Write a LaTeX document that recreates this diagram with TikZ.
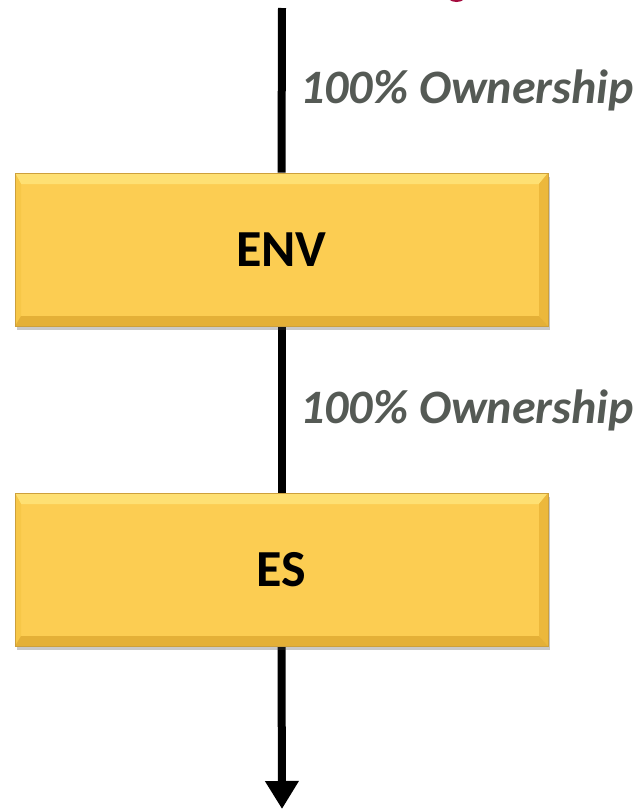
\documentclass[tikz,border=0pt]{standalone}
\usepackage{fontspec}
\setmainfont{Carlito}
\usetikzlibrary{arrows.meta,shadows,calc,backgrounds}
\definecolor{boxfill}{RGB}{252,205,82}
\definecolor{boxedge}{RGB}{205,160,60}
\definecolor{bevtop}{RGB}{254,224,115}
\definecolor{bevleft}{RGB}{247,199,72}
\definecolor{bevright}{RGB}{236,184,60}
\definecolor{bevbot}{RGB}{228,176,55}
\definecolor{labelgray}{RGB}{85,90,85}
\definecolor{crimson}{RGB}{165,12,62}
\tikzset{
  x=1pt, y=-1pt,
  conn/.style={line width=8pt, black},
  ownlabel/.style={anchor=base west, inner sep=0pt, text=labelgray,
    font=\bfseries\itshape\fontsize{48}{56}\selectfont},
  orgbox/.style={rectangle, minimum width=533pt, minimum height=153pt, inner sep=0pt,
    fill=boxfill, draw=boxedge, line width=0.8pt,
    font=\bfseries\fontsize{52}{60}\selectfont,
    drop shadow={shadow xshift=2pt, shadow yshift=-4pt, opacity=0.3, fill=black!70},
    path picture={
      \coordinate (nw) at (path picture bounding box.north west);
      \coordinate (ne) at (path picture bounding box.north east);
      \coordinate (sw) at (path picture bounding box.south west);
      \coordinate (se) at (path picture bounding box.south east);
      \fill[bevtop] (nw) -- (ne) -- ($(ne)+(-9,11)$) -- ($(nw)+(6,11)$) -- cycle;
      \fill[bevleft] (nw) -- ($(nw)+(6,11)$) -- ($(sw)+(6,-10)$) -- (sw) -- cycle;
      \fill[bevright] (ne) -- (se) -- ($(se)+(-9,-10)$) -- ($(ne)+(-9,11)$) -- cycle;
      \fill[bevbot] (sw) -- (se) -- ($(se)+(-9,-10)$) -- ($(sw)+(6,-10)$) -- cycle;
    }},
}
\begin{document}
\begin{tikzpicture}
\useasboundingbox (0,0) rectangle (637,809);
\fill[crimson] (456.5,-7) ellipse [x radius=11, y radius=9];
\coordinate (top) at (282,8);
\coordinate (bottom) at (282,809);
\node[orgbox] (env) at (281.5,249.5) {ENV};
\node[orgbox] (es) at (281.5,569.5) {ES};
\begin{scope}[on background layer]
\draw[conn] (top) -- (env.north);
\draw[conn] (env.south) -- (es.north);
\draw[conn, -{Triangle[width=32pt,length=28pt]}] (es.south) -- (bottom);
\end{scope}
\node[ownlabel] (lab1) at (300,103) {100\% Ownership};
\node[ownlabel] (lab2) at (300,423) {100\% Ownership};
\end{tikzpicture}
\end{document}
